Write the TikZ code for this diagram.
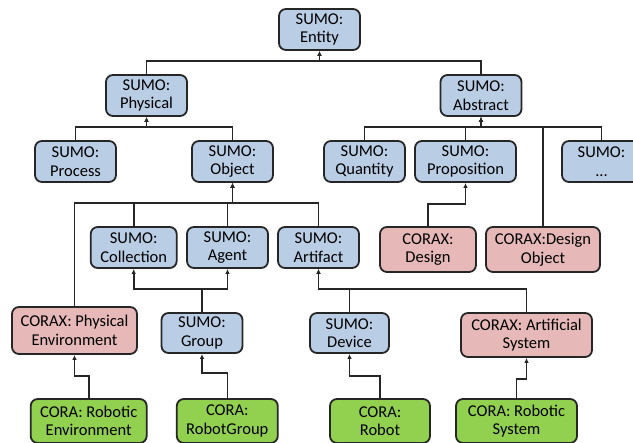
\documentclass[tikz,border=0pt]{standalone}
\usepackage{fontspec}
\setmainfont{Carlito}
\usepackage{tikz}
\usetikzlibrary{arrows.meta}

\definecolor{sumoblue}{HTML}{B9CDE5}
\definecolor{coraxred}{HTML}{E6B9B8}
\definecolor{coragreen}{HTML}{92D050}
\definecolor{edgegray}{HTML}{262626}

\begin{document}
\begin{tikzpicture}[
  x=1pt, y=-1pt,
  >={Latex[length=5pt,width=4.5pt]},
  line width=1.6pt,
  box/.style   = {rectangle, rounded corners=7pt, draw=edgegray, line width=1.8pt,
                  align=center, inner sep=1pt,
                  font=\fontsize{16.5}{18.5}\selectfont,
                  minimum width=81pt, minimum height=41pt},
  sumo/.style  = {box, fill=sumoblue},
  corax/.style = {box, fill=coraxred, minimum height=45pt},
  cora/.style  = {box, fill=coragreen, minimum height=44pt},
  link/.style  = {->, draw=edgegray}
]
\clip (0,0) rectangle (633,443);

% Nodes
\node[sumo] (entity) at (319.5,29.5) {SUMO:\\Entity};

\node[sumo] (physical) at (146.5,95.5) {SUMO:\\Physical};
\node[sumo] (abstract) at (481,95.5) {SUMO:\\Abstract};

\node[sumo] (process) at (75.5,161.5) {SUMO:\\Process};
\node[sumo] (object) at (232.5,161.5) {SUMO:\\Object};
\node[sumo] (quantity) at (364.5,161.5) {SUMO:\\Quantity};
\node[sumo, minimum width=101pt] (proposition) at (465.5,161.5) {SUMO:\\Proposition};
\node[sumo, minimum width=79pt] (others) at (601.5,161.5) {SUMO:\\...};

\node[sumo, minimum width=86pt] (collection) at (133.7,247.5) {SUMO:\\Collection};
\node[sumo] (agent) at (227.5,247.5) {SUMO:\\Agent};
\node[sumo] (artifact) at (318.5,247.5) {SUMO:\\Artifact};
\node[corax, minimum width=96pt] (design) at (428,249.5) {CORAX:\\Design};
\node[corax, minimum width=114pt] (designobj) at (543,249.5) {CORAX:Design\\Object};

\node[corax, minimum width=125pt, minimum height=47pt] (physenv) at (74.5,330.5) {CORAX: Physical\\Environment};
\node[sumo, minimum height=40pt] (group) at (202,333) {SUMO:\\Group};
\node[sumo, minimum width=79pt, minimum height=40pt] (device) at (349.5,333) {SUMO:\\Device};
\node[corax, minimum width=131pt, minimum height=44pt] (artsys) at (526.5,335) {CORAX: Artificial\\System};

\node[cora, minimum width=116pt] (robenv) at (88.7,421) {CORA: Robotic\\Environment};
\node[cora, minimum width=101pt] (robgroup) at (227.3,421) {CORA:\\RobotGroup};
\node[cora, minimum width=100pt] (robot) at (380,421) {CORA:\\Robot};
\node[cora, minimum width=121pt] (robsys) at (516.5,421) {CORA: Robotic\\System};

% Upper tree
\draw[link] (physical.north) -- ++(0,-13) -| (entity.south);
\draw[link] (abstract.north) -- ++(0,-13) -| (entity.south);

\draw[link] (process.north) -- ++(0,-13) -| (physical.south);
\draw[link] (object.north) -- ++(0,-13) -| (physical.south);

\draw[link] (quantity.north) -- ++(0,-13) -| (abstract.south);
\draw[link] (proposition.north) -- ++(0,-13) -| (abstract.south);
\draw[link] (others.north) -- ++(0,-13) -| (abstract.south);
\draw[link] (designobj.north) -- ++(0,-99) -| (abstract.south);

% Object branch
\draw[link] (collection.north) -- ++(0,-23) -| (object.south);
\draw[link] (agent.north) -- ++(0,-23) -| (object.south);
\draw[link] (artifact.north) -- ++(0,-23) -| (object.south);
\draw[link] (physenv.north) -- ++(0,-103) -| (object.south);

\draw[link] (design.north) -- ++(0,-22) -| (proposition.south);

\draw[link] (group.north) -- ++(0,-23) -| (collection.south);
\draw[link] (group.north) -- ++(0,-23) -| (agent.south);
\draw[link] (device.north) -- ++(0,-23) -| (artifact.south);
\draw[link] (artsys.north) -- ++(0,-23) -| (artifact.south);

% CORA nodes
\draw[link] (robenv.north) -- ++(0,-22) -| (physenv.south);
\draw[link] (robgroup.north) -- ++(0,-25) -| (group.south);
\draw[link] (robot.north) -- ++(0,-22) -| (device.south);
\draw[link] (robsys.north) -- ++(0,-19) -| (artsys.south);

\end{tikzpicture}
\end{document}
